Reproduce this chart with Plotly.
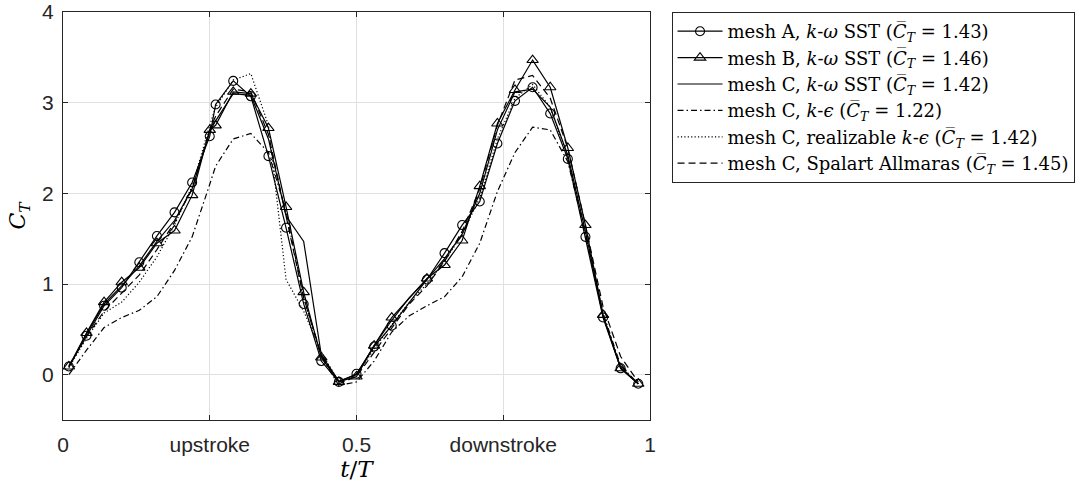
import plotly.graph_objects as go

# sample times (marker series lack t = 0.59)
t_mark = [0.01, 0.04, 0.07, 0.10, 0.13, 0.16, 0.19, 0.22, 0.25, 0.26, 0.29, 0.32, 0.35, 0.38,
          0.41, 0.44, 0.47, 0.50, 0.53, 0.56, 0.62, 0.65, 0.68, 0.71, 0.74, 0.77, 0.80, 0.83,
          0.86, 0.89, 0.92, 0.95, 0.98]
t_line = [0.01, 0.04, 0.07, 0.10, 0.13, 0.16, 0.19, 0.22, 0.25, 0.26, 0.29, 0.32, 0.35, 0.38,
          0.41, 0.44, 0.47, 0.50, 0.53, 0.56, 0.59, 0.62, 0.65, 0.68, 0.71, 0.74, 0.77, 0.80,
          0.83, 0.86, 0.89, 0.92, 0.95, 0.98]

mesh_a_sst = [0.09, 0.43, 0.76, 0.96, 1.24, 1.53, 1.79, 2.12, 2.63, 2.98, 3.24, 3.07, 2.41, 1.62,
              0.78, 0.15, -0.08, 0.01, 0.31, 0.54, 1.05, 1.34, 1.65, 1.91, 2.55, 3.02, 3.17, 2.88,
              2.38, 1.52, 0.63, 0.07, -0.10]
mesh_b_sst = [0.09, 0.46, 0.80, 1.02, 1.18, 1.45, 1.59, 1.98, 2.70, 2.75, 3.12, 3.10, 2.72, 1.85,
              0.91, 0.19, -0.08, -0.02, 0.32, 0.63, 1.06, 1.21, 1.48, 2.08, 2.77, 3.14, 3.47, 3.17,
              2.50, 1.65, 0.66, 0.07, -0.10]
mesh_c_sst = [0.08, 0.45, 0.78, 0.98, 1.20, 1.47, 1.70, 2.05, 2.68, 2.80, 3.10, 3.08, 2.60, 1.75,
              1.47, 0.22, -0.07, 0.00, 0.32, 0.60, 0.85, 1.05, 1.28, 1.55, 2.00, 2.70, 3.12, 3.15,
              2.95, 2.42, 1.58, 0.65, 0.08, -0.10]
mesh_c_ke = [0.00, 0.27, 0.52, 0.63, 0.71, 0.86, 1.15, 1.52, 2.10, 2.30, 2.60, 2.66, 2.45, 1.80,
             0.85, 0.20, -0.12, -0.08, 0.15, 0.47, 0.65, 0.76, 0.86, 1.08, 1.45, 2.02, 2.45, 2.73,
             2.70, 2.35, 1.55, 0.68, 0.10, -0.10]
mesh_c_rke = [0.08, 0.40, 0.68, 0.80, 1.02, 1.30, 1.65, 2.08, 2.75, 2.95, 3.25, 3.32, 2.75, 1.05,
              0.70, 0.25, -0.08, 0.00, 0.28, 0.55, 0.80, 1.00, 1.25, 1.55, 1.95, 2.60, 3.05, 3.20,
              2.95, 2.40, 1.55, 0.65, 0.08, -0.10]
mesh_c_sa = [0.10, 0.42, 0.70, 0.90, 1.10, 1.38, 1.68, 2.05, 2.70, 2.85, 3.15, 3.12, 2.65, 1.75,
             0.85, 0.22, -0.10, -0.02, 0.25, 0.52, 0.78, 0.98, 1.25, 1.58, 2.05, 2.75, 3.25, 3.30,
             3.05, 2.50, 1.65, 0.75, 0.20, -0.08]

x_tick_vals = [0, 0.25, 0.5, 0.75, 1]
x_tick_text = ["0", "upstroke", "0.5", "downstroke", "1"]
y_tick_vals = [0, 1, 2, 3, 4]

OV = "<i>C\u0305</i><sub><i>T</i></sub>"
names = [
    f"mesh A, <i>k</i>-<i>\u03c9</i> SST ({OV} = 1.43)",
    f"mesh B, <i>k</i>-<i>\u03c9</i> SST ({OV} = 1.46)",
    f"mesh C, <i>k</i>-<i>\u03c9</i> SST ({OV} = 1.42)",
    f"mesh C, <i>k</i>-<i>\u03f5</i> ({OV} = 1.22)",
    f"mesh C, realizable <i>k</i>-<i>\u03f5</i> ({OV} = 1.42)",
    f"mesh C, Spalart Allmaras ({OV} = 1.45)",
]

LC = "black"
LW = 1.2
fig = go.Figure()
fig.add_trace(go.Scatter(x=t_mark, y=mesh_a_sst, name=names[0], mode="lines+markers",
                         line=dict(color=LC, width=LW),
                         marker=dict(symbol="circle-open", size=9, color=LC, line=dict(width=1.1))))
fig.add_trace(go.Scatter(x=t_mark, y=mesh_b_sst, name=names[1], mode="lines+markers",
                         line=dict(color=LC, width=LW),
                         marker=dict(symbol="triangle-up-open", size=10, color=LC, line=dict(width=1.1))))
fig.add_trace(go.Scatter(x=t_line, y=mesh_c_sst, name=names[2], mode="lines",
                         line=dict(color=LC, width=LW)))
fig.add_trace(go.Scatter(x=t_line, y=mesh_c_ke, name=names[3], mode="lines",
                         line=dict(color=LC, width=LW, dash="6px,3px,1.5px,3px")))
fig.add_trace(go.Scatter(x=t_line, y=mesh_c_rke, name=names[4], mode="lines",
                         line=dict(color=LC, width=LW, dash="1.2px,2.2px")))
fig.add_trace(go.Scatter(x=t_line, y=mesh_c_sa, name=names[5], mode="lines",
                         line=dict(color=LC, width=LW, dash="7px,4px")))

axis_common = dict(showline=True, linecolor="#262626", linewidth=1, mirror="allticks",
                   ticks="inside", ticklen=5, tickcolor="#262626", showgrid=True,
                   gridcolor="#e0e0e0", gridwidth=1, zeroline=False, automargin=False,
                   ticklabeloverflow="allow",
                   tickfont=dict(family="Liberation Sans, Arial", size=21, color="#262626"))

fig.update_xaxes(range=[0, 1], tickvals=x_tick_vals, ticktext=x_tick_text,
                 ticklabelstandoff=6,
                 title=dict(text="<i>t</i>/<i>T</i>", standoff=0,
                            font=dict(family="DejaVu Serif", size=23, color="black")),
                 **axis_common)
fig.update_yaxes(range=[-0.5, 4], tickvals=y_tick_vals, ticklabelstandoff=4,
                 title=dict(text="<i>C</i><sub><i>T</i></sub>", standoff=10,
                            font=dict(family="DejaVu Serif", size=22, color="black")),
                 **axis_common)

fig.update_layout(
    width=1087, height=484,
    margin=dict(l=63, r=429, t=12, b=64),
    paper_bgcolor="white", plot_bgcolor="white",
    showlegend=True,
    legend=dict(x=1.0367, y=1.0, xanchor="left", yanchor="top",
                bordercolor="#262626", borderwidth=1, bgcolor="white",
                font=dict(family="DejaVu Serif", size=18, color="black"),
                tracegroupgap=0, itemwidth=45),
)

# remove the default 8 px page margin so the figure fills the window exactly
fig.write_html("out.html",
               config={"displayModeBar": False},
               post_script="document.body.style.margin='0px';document.body.style.overflow='hidden';")
